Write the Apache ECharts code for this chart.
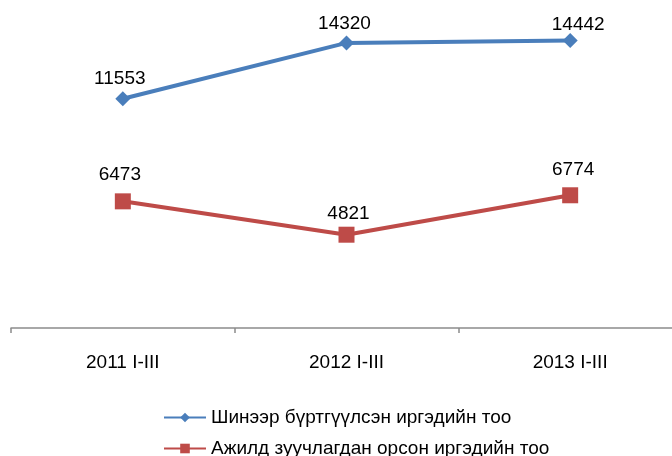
<!DOCTYPE html>
<html><head><meta charset="utf-8">
<script src="https://cdn.jsdelivr.net/npm/echarts@6/dist/echarts.min.js"></script>
<style>html,body{margin:0;padding:0;background:#fff;overflow:hidden}#c{width:682px;height:456px}</style>
</head><body><div id="c"></div>
<script>
var categories = ['2011 I-III', '2012 I-III', '2013 I-III'];
var registered = [11553, 14320, 14442];
var placed = [6473, 4821, 6774];
var seriesNames = ['Шинээр бүртгүүлсэн иргэдийн тоо', 'Ажилд зуучлагдан орсон иргэдийн тоо'];

var blueOffsets = [[-3, -3.5], [-2, -2.5], [8, 1.5]];
var redOffsets = [[-3, -9], [2, -3.5], [3, -8.5]];

var chart = echarts.init(document.getElementById('c'));
var font = '"Liberation Sans", Arial, sans-serif';
var legendCommon = {
  orient: 'horizontal', left: 158, itemWidth: 42, itemHeight: 12,
  textStyle: { fontSize: 19, color: '#000', fontFamily: font }
};
chart.setOption({
  animation: false,
  textStyle: { fontFamily: font },
  grid: { left: 11, right: 0, top: 9, bottom: 128 },
  xAxis: {
    type: 'category', data: categories, boundaryGap: true,
    axisLine: { lineStyle: { color: '#8c8c8c', width: 1.5 } },
    axisTick: { show: true, alignWithLabel: false, lineStyle: { color: '#8c8c8c', width: 1.5 }, length: 5 },
    axisLabel: { color: '#000', fontSize: 19, fontFamily: font, margin: 25 }
  },
  yAxis: { type: 'value', min: 200, max: 16000, show: false, splitLine: { show: false } },
  legend: [
    Object.assign({ top: 403, data: [seriesNames[0]] }, legendCommon),
    Object.assign({ top: 434, data: [seriesNames[1]] }, legendCommon)
  ],
  series: [
    {
      name: seriesNames[0], type: 'line', data: registered.map(function (v, i) {
        return { value: v, label: { offset: blueOffsets[i] } };
      }),
      symbol: 'diamond', symbolSize: 15,
      lineStyle: { color: '#4a7ebb', width: 4 },
      itemStyle: { color: '#4a7ebb' },
      label: { show: true, position: 'top', distance: 0, color: '#000', fontSize: 19, fontFamily: font }
    },
    {
      name: seriesNames[1], type: 'line', data: placed.map(function (v, i) {
        return { value: v, label: { offset: redOffsets[i] } };
      }),
      symbol: 'rect', symbolSize: 16,
      lineStyle: { color: '#be4b48', width: 4 },
      itemStyle: { color: '#be4b48' },
      label: { show: true, position: 'top', distance: 0, color: '#000', fontSize: 19, fontFamily: font }
    }
  ]
});
</script></body></html>
